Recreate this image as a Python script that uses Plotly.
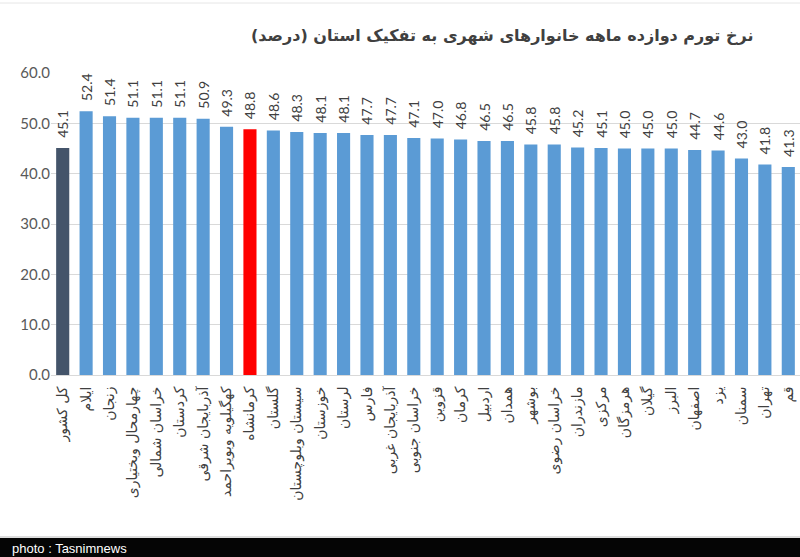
import plotly.graph_objects as go

categories = ["کل کشور", "ایلام", "زنجان", "چهارمحال وبختیاری", "خراسان شمالی", "کردستان",
              "آذربایجان شرقی", "کهگیلویه وبویراحمد", "کرمانشاه", "گلستان", "سیستان وبلوچستان",
              "خوزستان", "لرستان", "فارس", "آذربایجان غربی", "خراسان جنوبی", "قزوین", "کرمان",
              "اردبیل", "همدان", "بوشهر", "خراسان رضوی", "مازندران", "مرکزی", "هرمزگان",
              "گیلان", "البرز", "اصفهان", "یزد", "سمنان", "تهران", "قم"]
values = [45.1, 52.4, 51.4, 51.1, 51.1, 51.1, 50.9, 49.3, 48.8, 48.6, 48.3, 48.1, 48.1,
          47.7, 47.7, 47.1, 47.0, 46.8, 46.5, 46.5, 45.8, 45.8, 45.2, 45.1, 45.0, 45.0,
          45.0, 44.7, 44.6, 43.0, 41.8, 41.3]
tick_vals = [0, 10, 20, 30, 40, 50, 60]
tick_text = ["0.0", "10.0", "20.0", "30.0", "40.0", "50.0", "60.0"]
title = "نرخ تورم دوازده ماهه خانوارهای شهری به تفکیک استان (درصد)"
credit = "photo : Tasnimnews"

colors = []
for c in categories:
    if c == "کل کشور":
        colors.append("#44546A")
    elif c == "کرمانشاه":
        colors.append("#FF0000")
    else:
        colors.append("#5B9BD5")

fig = go.Figure(go.Bar(
    x=categories, y=values,
    marker=dict(color=colors, line=dict(width=0)),
    text=["\u00a0\u00a0" + f"{v:.1f}" for v in values],
    textposition="outside", textangle=-90, constraintext="none",
    textfont=dict(family="Lato, Open Sans, sans-serif", size=14, color="#404040"),
    cliponaxis=False,
))

fig.update_layout(
    width=800, height=557,
    margin=dict(l=51, r=0, t=73, b=182),
    paper_bgcolor="white", plot_bgcolor="white",
    bargap=0.44,
    showlegend=False,
    xaxis=dict(type="category", range=[-0.5, len(categories) - 0.5],
               tickangle=-90, showgrid=False, showline=True, linecolor="#D9D9D9",
               ticks="outside", ticklen=5, tickcolor="rgba(0,0,0,0)",
               tickfont=dict(family="DejaVu Sans, sans-serif", size=14, color="#404040")),
    yaxis=dict(range=[0, 60], tickvals=tick_vals, ticktext=tick_text,
               showgrid=True, gridcolor="#D9D9D9", gridwidth=1, zeroline=False,
               ticks="", ticklen=0,
               tickfont=dict(family="Lato, Open Sans, sans-serif", size=15, color="#595959")),
    shapes=[
        dict(type="rect", xref="paper", yref="paper", x0=-0.1, x1=1.01,
             y0=-0.62, y1=(375 - 538) / 302, fillcolor="#050505", line=dict(width=0), layer="above"),
        dict(type="line", xref="paper", yref="paper", x0=-0.1, x1=1.01,
             y0=(375 - 537) / 302, y1=(375 - 537) / 302, line=dict(color="#BBBBBB", width=1)),
        dict(type="line", xref="paper", yref="paper", x0=-0.1, x1=1.01,
             y0=(375 - 3) / 302, y1=(375 - 3) / 302, line=dict(color="#E6E6E6", width=1)),
    ],
    annotations=[
        dict(text="<b>" + title + "</b>", xref="paper", yref="paper", x=(502 - 51) / 749, y=(375 - 35) / 302,
             xanchor="center", yanchor="middle", showarrow=False,
             font=dict(family="DejaVu Sans, sans-serif", size=16, color="#404040")),
        dict(text=credit, xref="paper", yref="paper", x=(10 - 51) / 749, y=(375 - 548) / 302,
             xanchor="left", yanchor="middle", showarrow=False,
             font=dict(family="Liberation Sans, Arial, sans-serif", size=13, color="white")),
    ],
)

fig.write_html("out.html")
